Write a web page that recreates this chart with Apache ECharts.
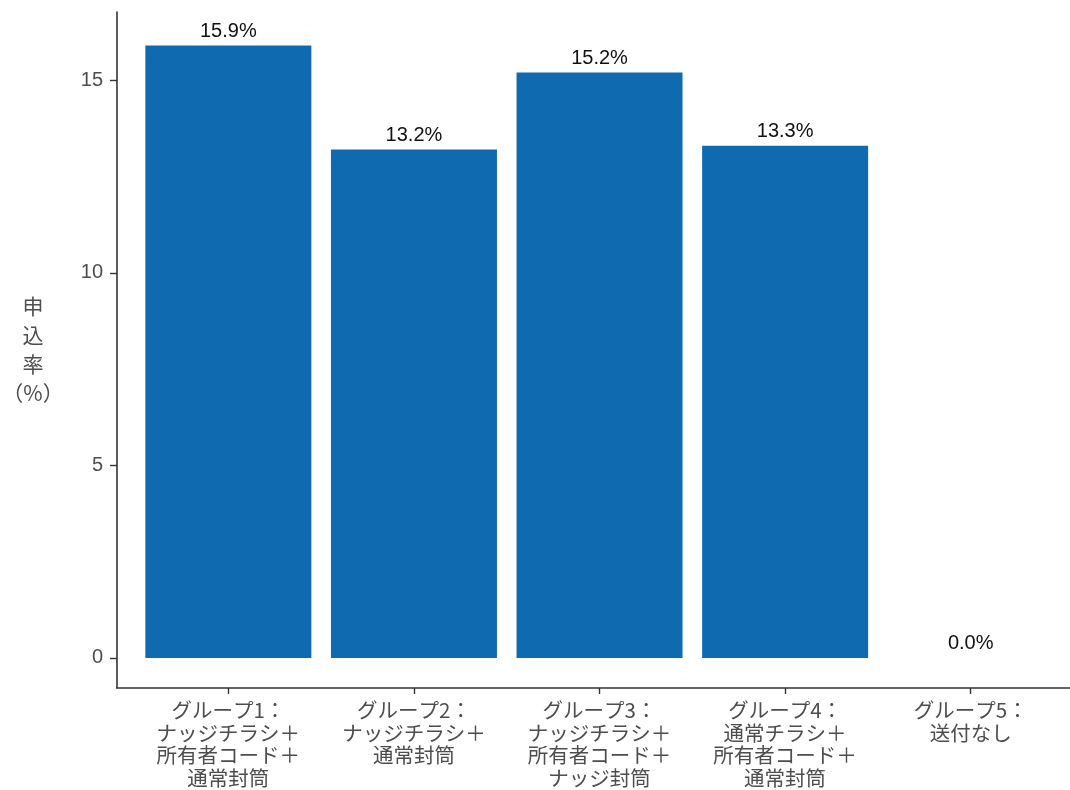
<!DOCTYPE html>
<html lang="ja" style="height:100%">
<head>
    <meta charset="UTF-8">
    <title>申込率</title>
    <script src="https://cdn.jsdelivr.net/npm/echarts@6/dist/echarts.min.js"></script>
</head>
<body style="height:100%;margin:0">
<div id="main" style="width:1070px;height:790px;"></div>
<script type="text/javascript">
    // データ
    var groups = [
        'グループ1：\nナッジチラシ＋\n所有者コード＋\n通常封筒',
        'グループ2：\nナッジチラシ＋\n通常封筒',
        'グループ3：\nナッジチラシ＋\n所有者コード＋\nナッジ封筒',
        'グループ4：\n通常チラシ＋\n所有者コード＋\n通常封筒',
        'グループ5：\n送付なし'
    ];
    var positions = [1, 2, 3, 4, 5];
    var rates = [15.9, 13.2, 15.2, 13.3, 0.0];
    var yTicks = [0, 5, 10, 15];

    var myChart = echarts.init(document.getElementById('main'));
    var axisColor = '#333333';
    var textGray = '#4D4D4D';

    var option = {
        animation: false,
        grid: {left: 117, right: 0, top: 12, bottom: 102, outerBoundsMode: 'none'},
        xAxis: {
            type: 'value',
            min: 0.4,
            max: 5.535,
            splitLine: {show: false},
            axisLine: {show: true, onZero: false, lineStyle: {color: axisColor, width: 1.6}},
            axisTick: {show: true, length: 6, customValues: positions,
                lineStyle: {color: axisColor, width: 1.4}},
            axisLabel: {
                customValues: positions,
                margin: 11,
                color: textGray,
                fontSize: 20.5,
                lineHeight: 22.5,
                fontFamily: 'Noto Sans CJK JP',
                formatter: function (v) { return groups[Math.round(v) - 1]; }
            }
        },
        yAxis: {
            type: 'value',
            min: -0.78,
            max: 16.77,
            name: '申\n込\n率\n（%）',
            nameLocation: 'middle',
            nameRotate: 0,
            nameGap: 84,
            nameTextStyle: {color: textGray, fontSize: 21, lineHeight: 29,
                align: 'center', fontFamily: 'Noto Sans CJK JP'},
            splitLine: {show: false},
            axisLine: {show: true, onZero: false, lineStyle: {color: axisColor, width: 1.6}},
            axisTick: {show: true, length: 7, customValues: yTicks,
                lineStyle: {color: axisColor, width: 1.4}},
            axisLabel: {
                customValues: yTicks,
                margin: 14,
                color: textGray,
                fontSize: 20,
                fontFamily: 'Liberation Sans'
            }
        },
        series: [{
            type: 'bar',
            barWidth: 166,
            data: positions.map(function (p, i) { return [p, rates[i]]; }),
            itemStyle: {color: '#106AAF'},
            label: {
                show: true,
                position: 'top',
                distance: 4,
                color: '#111111',
                fontSize: 20,
                fontFamily: 'Liberation Sans',
                formatter: function (p) { return p.value[1].toFixed(1) + '%'; }
            }
        }]
    };
    myChart.setOption(option);
</script>
</body>
</html>
